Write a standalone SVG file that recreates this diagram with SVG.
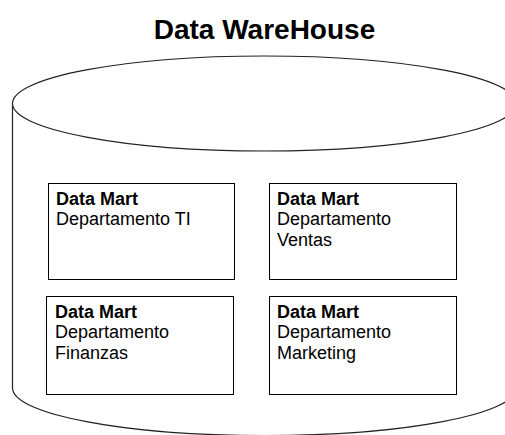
<svg xmlns="http://www.w3.org/2000/svg" width="505" height="435" viewBox="0 0 505 435">
  <style>
    .title { font-family: "Liberation Sans", Arial, sans-serif; font-size: 28px; font-weight: bold; fill: #000; }
    .mart rect { fill: #fff; stroke: #000; stroke-width: 1; }
    .mart text { font-family: "Liberation Sans", Arial, sans-serif; font-size: 18px; fill: #000; }
    .mart .head { font-weight: bold; }
    .drum { fill: #fff; stroke: #222; stroke-width: 1.2; }
  </style>
  <rect width="505" height="435" fill="#fff"/>

  <text class="title" x="264.5" y="39" text-anchor="middle">Data WareHouse</text>

  <!-- warehouse cylinder: body, then top lid -->
  <g id="warehouse">
    <path class="drum" d="M12.5,103.5 L12.5,388 A252,47.5 0 0 0 516.5,388 L516.5,103.5 Z"/>
    <ellipse class="drum" cx="264.5" cy="103.5" rx="252" ry="47.5"/>
  </g>

  <g id="mart-ti" class="mart">
    <rect x="48.5" y="183.5" width="186" height="96"/>
    <text x="56" y="204.5"><tspan class="head">Data Mart</tspan><tspan x="56" dy="20.7">Departamento TI</tspan></text>
  </g>

  <g id="mart-ventas" class="mart">
    <rect x="269.5" y="183.5" width="187" height="96"/>
    <text x="277" y="204.5"><tspan class="head">Data Mart</tspan><tspan x="277" dy="20.7">Departamento</tspan><tspan x="277" dy="20.7">Ventas</tspan></text>
  </g>

  <g id="mart-finanzas" class="mart">
    <rect x="46.5" y="296.5" width="187" height="98"/>
    <text x="55" y="317.5"><tspan class="head">Data Mart</tspan><tspan x="55" dy="20.7">Departamento</tspan><tspan x="55" dy="20.7">Finanzas</tspan></text>
  </g>

  <g id="mart-marketing" class="mart">
    <rect x="269.5" y="296.5" width="187" height="98"/>
    <text x="277" y="317.5"><tspan class="head">Data Mart</tspan><tspan x="277" dy="20.7">Departamento</tspan><tspan x="277" dy="20.7">Marketing</tspan></text>
  </g>

  <g id="connectors"/>
</svg>
